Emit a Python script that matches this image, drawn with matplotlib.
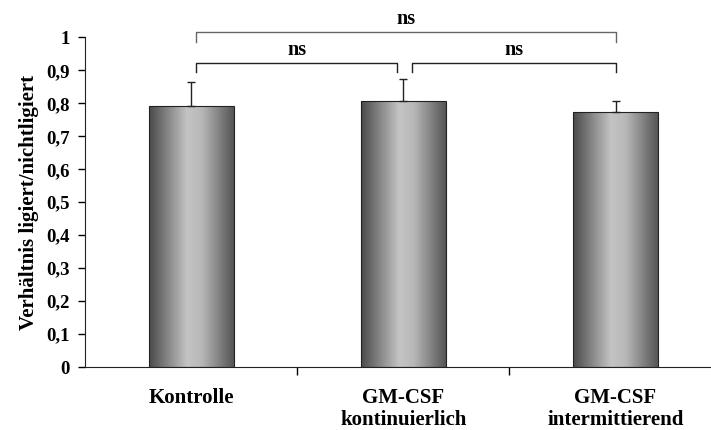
import numpy as np
import matplotlib.pyplot as plt
from matplotlib.colors import LinearSegmentedColormap

# data
categories = ["Kontrolle", "GM-CSF\nkontinuierlich", "GM-CSF\nintermittierend"]
values = [0.793, 0.808, 0.773]
errors = [0.073, 0.065, 0.035]
# significance brackets: (left, right, label)
brackets = [(0, 1, "ns"), (1, 2, "ns"), (0, 2, "ns")]
yticks = [0, 0.1, 0.2, 0.3, 0.4, 0.5, 0.6, 0.7, 0.8, 0.9, 1]
ytick_labels = ["0", "0,1", "0,2", "0,3", "0,4", "0,5", "0,6", "0,7", "0,8", "0,9", "1"]

plt.rcParams['font.family'] = ['Liberation Serif', 'DejaVu Serif']
plt.rcParams['font.weight'] = 'bold'

fig = plt.figure(figsize=(7.11, 4.30), dpi=100)
ax = fig.add_axes([0.1195, 0.1465, 0.8805, 0.7665])

x = np.arange(len(categories))
bars = ax.bar(x, values, width=0.40, color='none', edgecolor='#222222', linewidth=0.8, zorder=3)

# horizontal grey gradient inside each bar
grad_cmap = LinearSegmentedColormap.from_list(
    'bargrad', [(0.0, '#4a4a4a'), (0.45, '#c4c4c4'), (0.62, '#b8b8b8'), (1.0, '#555555')])
grad = np.linspace(0, 1, 256).reshape(1, -1)
for b in bars:
    x0, y0 = b.get_x(), b.get_y()
    im = ax.imshow(grad, cmap=grad_cmap, aspect='auto', zorder=2,
                   extent=[x0, x0 + b.get_width(), y0, y0 + b.get_height()])
    im.set_clip_path(b)

ax.errorbar(x, values, yerr=[np.zeros(len(errors)), errors], fmt='none',
            ecolor='#222222', elinewidth=1, capsize=3, capthick=1, zorder=4)

ax.set_xlim(-0.5, 2.45)
ax.set_ylim(0, 1)
ax.set_yticks(yticks)
ax.set_yticklabels(ytick_labels, fontsize=13.5, fontweight='bold')
ax.set_xticks(x)
ax.set_xticklabels(categories, fontsize=15, fontweight='bold', linespacing=1.15)
ax.set_xticks([0.5, 1.5], minor=True)
ax.tick_params(axis='x', which='major', length=0, pad=15)
ax.tick_params(axis='x', which='minor', length=6, width=1, direction='out')
ax.tick_params(axis='y', length=5, width=1, direction='out', pad=6)
ax.set_ylabel("Verhältnis ligiert/nichtligiert", fontsize=15, fontweight='bold', labelpad=5)

for s in ['top', 'right']:
    ax.spines[s].set_visible(False)
ax.spines['left'].set_color('#222222')
ax.spines['bottom'].set_color('#222222')

# brackets with "ns"
for i, (a, b, lab) in enumerate(brackets):
    if b - a == 2:
        y_top, y_foot, y_txt, l, r = 1.015, 0.987, 1.057, a + 0.024, b
        col = '#666666'
    else:
        y_top, y_foot, y_txt = 0.922, 0.896, 0.962
        l = a + 0.024 if a == 0 else a + 0.04
        r = b - 0.03 if b == 1 else b
        col = '#222222'
    ax.plot([l, l, r, r], [y_foot, y_top, y_top, y_foot], color=col, lw=1,
            clip_on=False)
    ax.text((l + r) / 2, y_txt, lab, ha='center', va='center', fontsize=14.5,
            fontweight='bold')

fig.savefig("out.png", dpi=100)
